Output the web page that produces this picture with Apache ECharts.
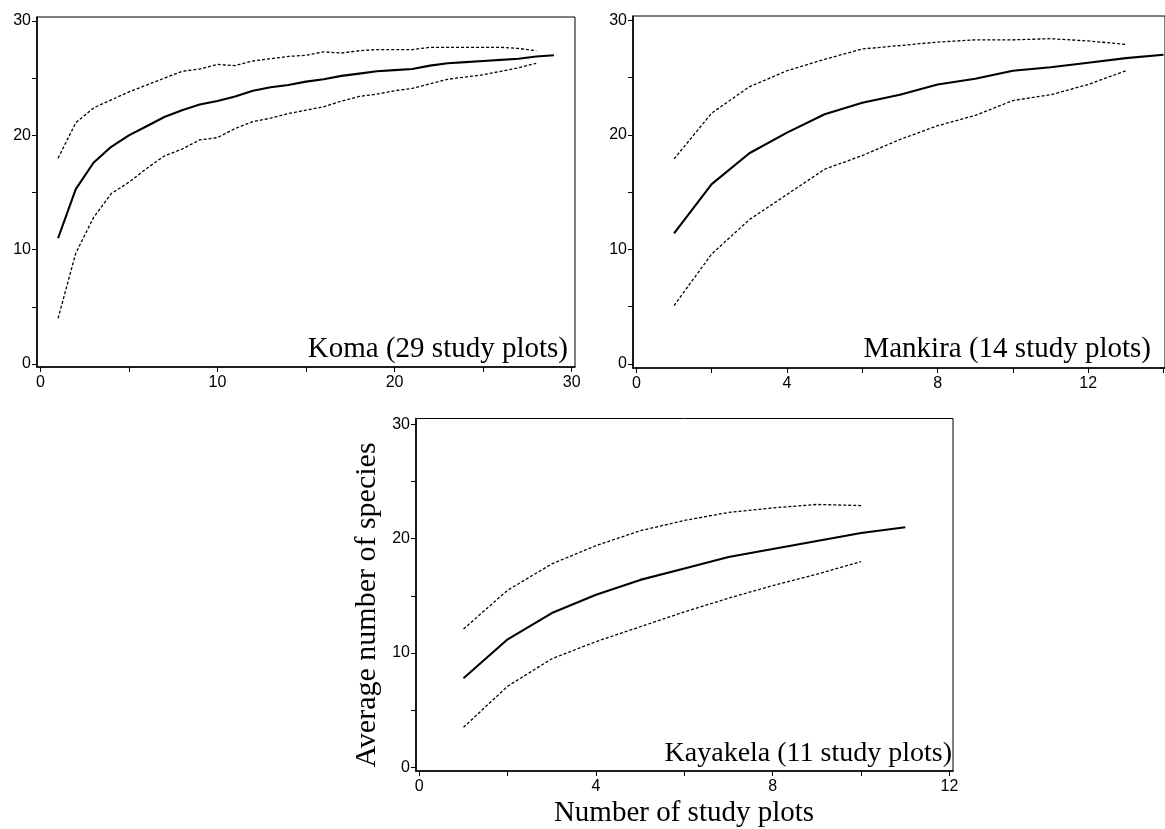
<!DOCTYPE html>
<html>
<head>
<meta charset="utf-8">
<script src="https://cdn.jsdelivr.net/npm/echarts@6/dist/echarts.min.js"></script>
<style>
html,body{margin:0;padding:0;background:#fff;}
#chart{width:1165px;height:829px;}
</style>
</head>
<body>
<div id="chart"></div>
<script>
// ---- Data ----
const komaPlots = [1,2,3,4,5,6,7,8,9,10,11,12,13,14,15,16,17,18,19,20,21,22,23,24,25,26,27,28,29];
const komaMean  = [11.0,15.3,17.6,19.0,20.0,20.8,21.6,22.2,22.7,23.0,23.4,23.9,24.2,24.4,24.7,24.9,25.2,25.4,25.6,25.7,25.8,26.1,26.3,26.4,26.5,26.6,26.7,26.9,27.0];
const komaUpper = [18.0,21.1,22.4,23.1,23.8,24.4,25.0,25.6,25.8,26.2,26.1,26.5,26.7,26.9,27.0,27.3,27.2,27.4,27.5,27.5,27.5,27.7,27.7,27.7,27.7,27.7,27.6,27.4];
const komaLower = [4.0,9.7,12.8,14.9,15.9,17.1,18.2,18.8,19.6,19.8,20.6,21.2,21.5,21.9,22.2,22.5,23.0,23.4,23.6,23.9,24.1,24.5,24.9,25.1,25.3,25.6,25.9,26.3];

const mankiraPlots = [1,2,3,4,5,6,7,8,9,10,11,12,13,14];
const mankiraMean  = [11.4,15.7,18.4,20.2,21.8,22.8,23.5,24.4,24.9,25.6,25.9,26.3,26.7,27.0];
const mankiraUpper = [17.9,21.9,24.2,25.6,26.6,27.5,27.8,28.1,28.3,28.3,28.4,28.2,27.9];
const mankiraLower = [5.1,9.6,12.6,14.8,17.0,18.2,19.6,20.8,21.7,23.0,23.5,24.4,25.6];

const kayakelaPlots = [1,2,3,4,5,6,7,8,9,10,11];
const kayakelaMean  = [7.8,11.2,13.5,15.1,16.4,17.4,18.4,19.1,19.8,20.5,21.0];
const kayakelaUpper = [12.1,15.5,17.8,19.4,20.7,21.6,22.3,22.7,23.0,22.9];
const kayakelaLower = [3.5,7.1,9.5,11.0,12.3,13.6,14.8,15.9,16.9,18.0];

const yTickLabels = [0,10,20,30];
const yMinorTicks = [0,5,10,15,20,25,30];
const komaXLabels = [0,10,20,30];
const komaXTicks  = [0,5,10,15,20,25,30];
const smallXLabels = [0,4,8,12];
const smallXTicks  = [0,2,4,6,8,10,12,14];

const titles = ['Koma (29 study plots)','Mankira (14 study plots)','Kayakela (11 study plots)'];
const yTitle = 'Average number of species';
const xTitle = 'Number of study plots';

// ---- Build ----
const pairs = (xs, ys) => ys.map((v, i) => [xs[i], v]);
const SANS = 'Liberation Sans';
const SERIF = 'Liberation Serif';

function xAxisDef(idx, min, max, labels, ticks) {
  return {
    type: 'value', gridIndex: idx, min: min, max: max,
    axisLine: {show: true, onZero: false, lineStyle: {color: '#000', width: 1.6}},
    axisTick: {show: true, inside: false, length: 5, customValues: ticks, lineStyle: {color: '#000', width: 1}},
    axisLabel: {show: true, customValues: labels, margin: 8, color: '#000', fontFamily: SANS, fontSize: 16},
    splitLine: {show: false}
  };
}
function yAxisDef(idx, min, max) {
  return {
    type: 'value', gridIndex: idx, min: min, max: max,
    axisLine: {show: true, onZero: false, lineStyle: {color: '#000', width: 1.6}},
    axisTick: {show: true, inside: false, length: 5, customValues: yMinorTicks, lineStyle: {color: '#000', width: 1}},
    axisLabel: {show: true, customValues: yTickLabels, margin: 6, color: '#000', fontFamily: SANS, fontSize: 16},
    splitLine: {show: false}
  };
}
function lineSeries(idx, data, dashed) {
  return {
    type: 'line', xAxisIndex: idx, yAxisIndex: idx, data: data,
    symbol: 'none', smooth: false, silent: true, clip: false,
    lineStyle: dashed ? {color: '#000', width: 1.3, type: [3, 2]} : {color: '#000', width: 2.1}
  };
}

const gridStyle = {show: true, borderColor: '#000', borderWidth: 1, backgroundColor: 'transparent'};

const option = {
  animation: false,
  backgroundColor: '#fff',
  grid: [
    Object.assign({left: 37, top: 17, width: 538, height: 350}, gridStyle),
    Object.assign({left: 633, top: 16, width: 537, height: 352}, gridStyle),
    Object.assign({left: 416, top: 418.5, width: 537, height: 352.5}, gridStyle)
  ],
  xAxis: [
    xAxisDef(0, -0.19, 30.19, komaXLabels, komaXTicks),
    xAxisDef(1, -0.09, 14.04, smallXLabels, smallXTicks),
    xAxisDef(2, -0.075, 12.08, smallXLabels, [0,2,4,6,8,10,12])
  ],
  yAxis: [
    yAxisDef(0, -0.26, 30.35),
    yAxisDef(1, -0.35, 30.38),
    yAxisDef(2, -0.32, 30.52)
  ],
  series: [
    lineSeries(0, pairs(komaPlots, komaUpper), true),
    lineSeries(0, pairs(komaPlots, komaLower), true),
    lineSeries(0, pairs(komaPlots, komaMean), false),
    lineSeries(1, pairs(mankiraPlots, mankiraUpper), true),
    lineSeries(1, pairs(mankiraPlots, mankiraLower), true),
    lineSeries(1, pairs(mankiraPlots, mankiraMean), false),
    lineSeries(2, pairs(kayakelaPlots, kayakelaUpper), true),
    lineSeries(2, pairs(kayakelaPlots, kayakelaLower), true),
    lineSeries(2, pairs(kayakelaPlots, kayakelaMean), false)
  ],
  graphic: [
    {type: 'text', x: 568, y: 364, style: {text: titles[0], font: '29px "' + SERIF + '"', fill: '#000', textAlign: 'right', textVerticalAlign: 'bottom'}},
    {type: 'text', x: 1151, y: 364, style: {text: titles[1], font: '29px "' + SERIF + '"', fill: '#000', textAlign: 'right', textVerticalAlign: 'bottom'}},
    {type: 'text', x: 952, y: 768, style: {text: titles[2], font: '28px "' + SERIF + '"', fill: '#000', textAlign: 'right', textVerticalAlign: 'bottom'}},
    {type: 'text', x: 367, y: 605, rotation: Math.PI / 2, style: {text: yTitle, font: '30px "' + SERIF + '"', fill: '#000', textAlign: 'center', textVerticalAlign: 'middle'}},
    {type: 'text', x: 684, y: 813, style: {text: xTitle, font: '29px "' + SERIF + '"', fill: '#000', textAlign: 'center', textVerticalAlign: 'middle'}}
  ]
};

const chart = echarts.init(document.getElementById('chart'), null, {renderer: 'canvas', width: 1165, height: 829});
chart.setOption(option);
</script>
</body>
</html>
